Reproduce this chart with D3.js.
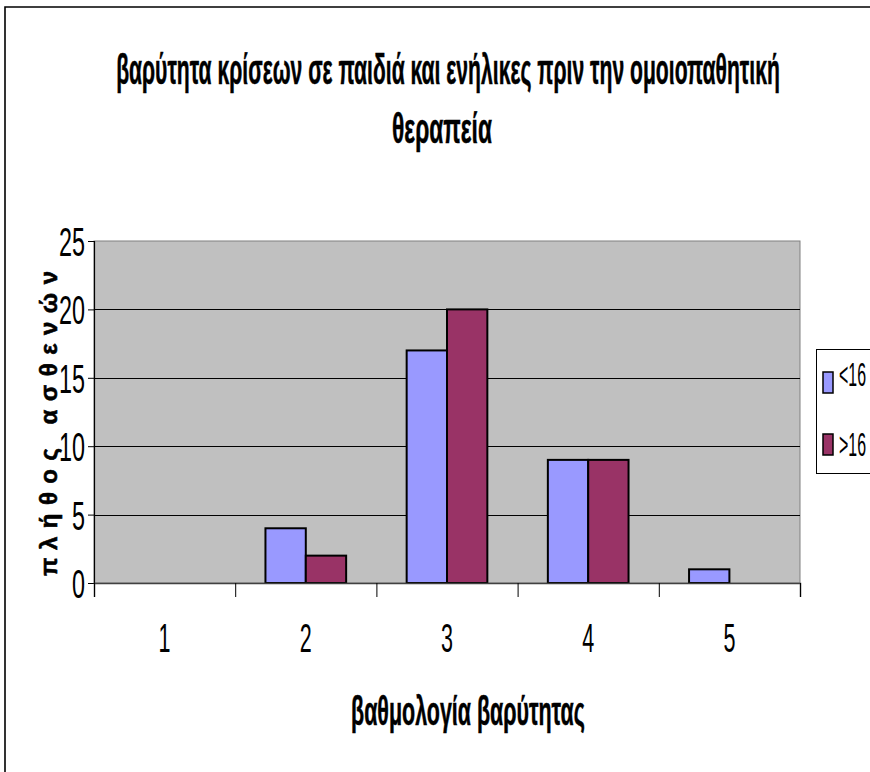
<!DOCTYPE html>
<html>
<head>
<meta charset="utf-8">
<script src="https://cdn.jsdelivr.net/npm/d3@7/dist/d3.min.js"></script>
<style>
  html, body { margin: 0; padding: 0; background: #fff; }
  svg { display: block; }
  text { font-family: "Liberation Sans Narrow", "Liberation Sans", Arial, sans-serif; fill: #000; }
</style>
</head>
<body>
<script>
// Severity grades and number of patients per age group
const categories = ["1", "2", "3", "4", "5"];
const seriesNames = ["<16", ">16"];
const under16 = [0, 4, 17, 9, 1];
const over16 = [0, 2, 20, 9, 0];
const yTicks = [0, 5, 10, 15, 20, 25];
const seriesColors = ["#9999FF", "#993366"];

const titleLines = ["βαρύτητα κρίσεων σε παιδιά και ενήλικες πριν την ομοιοπαθητική", "θεραπεία"];
const xTitle = "βαθμολογία βαρύτητας";
const yTitle = "πλήθος ασθενών";

const W = 870, H = 772;
const plot = { left: 94, right: 800, top: 241, bottom: 583 };
const FONT = "'Liberation Sans Narrow','Liberation Sans',Arial,sans-serif";

const svg = d3.select("body").append("svg").attr("width", W).attr("height", H);

// Squeeze a text horizontally to a given width, keeping its glyph height.
function squeeze(sel, width, tx, ty) {
  sel.each(function (d, i) {
    const w = typeof width === "function" ? width(d, i) : width;
    const px = typeof tx === "function" ? tx(d, i) : tx;
    const py = typeof ty === "function" ? ty(d, i) : ty;
    const natural = this.getComputedTextLength() || 1;
    d3.select(this).attr("x", 0).attr("y", 0)
      .attr("transform", `translate(${px},${py}) scale(${w / natural},1)`);
  });
}

// chart area frame
svg.append("path")
  .attr("d", `M5,${H + 2} V7 H${W + 2}`)
  .attr("fill", "none").attr("stroke", "#000").attr("stroke-width", 1.6);

const x = d3.scaleBand().domain(categories).range([plot.left, plot.right]).padding(0);
const edges = d3.scaleLinear().domain([0, categories.length]).range([plot.left, plot.right]);
const y = d3.scaleLinear().domain([0, 25]).range([plot.bottom, plot.top]);
const barW = x.bandwidth() / 3.5;
const inner = d3.scaleBand().domain(seriesNames).range([-barW, barW]);

// plot background
svg.append("rect")
  .attr("x", plot.left).attr("y", plot.top)
  .attr("width", plot.right - plot.left).attr("height", plot.bottom - plot.top)
  .attr("fill", "#C0C0C0").attr("stroke", "#808080").attr("stroke-width", 1);

// gridlines
svg.append("g").selectAll("line").data(yTicks.filter(d => d > 0 && d < 25)).join("line")
  .attr("x1", plot.left).attr("x2", plot.right)
  .attr("y1", d => Math.round(y(d)) + 0.5).attr("y2", d => Math.round(y(d)) + 0.5)
  .attr("stroke", "#000").attr("stroke-width", 1);

// bars
const rows = categories.map((c, i) => ({ c, vals: [under16[i], over16[i]] }));
const groups = svg.append("g").selectAll("g").data(rows).join("g")
  .attr("transform", d => `translate(${x(d.c) + x.bandwidth() / 2},0)`);
groups.selectAll("rect").data(d => d.vals.map((v, k) => ({ v, k })).filter(e => e.v > 0)).join("rect")
  .attr("x", e => inner(seriesNames[e.k]))
  .attr("width", inner.bandwidth())
  .attr("y", e => y(e.v))
  .attr("height", e => y(0) - y(e.v))
  .attr("fill", e => seriesColors[e.k])
  .attr("stroke", "#000").attr("stroke-width", 2);

// y axis
const yAxis = svg.append("g").attr("transform", `translate(${plot.left},0)`)
  .call(d3.axisLeft(y).tickValues(yTicks).tickSize(6).tickPadding(9).tickFormat(d3.format("d")));
yAxis.select(".domain").attr("stroke", "#000").attr("stroke-width", 1.2);
yAxis.selectAll(".tick line").attr("stroke", "#000");
yAxis.selectAll(".tick text")
  .attr("font-size", 40).attr("dy", "0.36em").attr("fill", "#000")
  .style("font-family", FONT)
  .call(squeeze, d => String(d).length * 13, -9, 0);

// x axis: boundary ticks plus centred category labels
const xEdges = svg.append("g").attr("transform", `translate(0,${plot.bottom})`)
  .call(d3.axisBottom(edges).ticks(categories.length).tickSize(14).tickFormat(""));
xEdges.select(".domain").attr("stroke", "#404040").attr("stroke-width", 1.5);
xEdges.selectAll(".tick line").attr("stroke", "#000");

const xLabels = svg.append("g").attr("transform", `translate(0,${plot.bottom})`)
  .call(d3.axisBottom(x).tickSize(0).tickPadding(0));
xLabels.select(".domain").remove();
xLabels.selectAll(".tick text")
  .attr("dy", 0).attr("font-size", 40).attr("fill", "#000")
  .style("font-family", FONT)
  .call(squeeze, 12, 0, 69);

// title
const titleLayout = [{ cx: 448, base: 84, w: 664 }, { cx: 442, base: 143, w: 100 }];
svg.append("g").selectAll("text").data(titleLines).join("text")
  .attr("text-anchor", "middle").attr("font-size", 42).attr("font-weight", "bold")
  .attr("stroke", "#000").attr("stroke-width", 0.5)
  .text(d => d)
  .call(squeeze, (d, i) => titleLayout[i].w, (d, i) => titleLayout[i].cx, (d, i) => titleLayout[i].base);

// x axis title
svg.append("text")
  .attr("text-anchor", "middle")
  .attr("font-size", 40).attr("font-weight", "bold")
  .attr("stroke", "#000").attr("stroke-width", 0.5)
  .text(xTitle)
  .call(squeeze, 234, 468, 725);

// y axis title, rotated and spread along the axis
svg.append("text")
  .attr("transform", "translate(57,576) rotate(-90)")
  .attr("x", 0).attr("y", 0).attr("text-anchor", "start")
  .attr("font-size", 24).attr("font-weight", "bold")
  .attr("stroke", "#000").attr("stroke-width", 0.6)
  .attr("textLength", 305).attr("lengthAdjust", "spacing")
  .text(yTitle);

// legend
const legend = svg.append("g");
legend.append("rect")
  .attr("x", 816.5).attr("y", 349.5).attr("width", 80).attr("height", 124)
  .attr("fill", "#fff").attr("stroke", "#000").attr("stroke-width", 1);
const legendRows = [{ top: 372, base: 386 }, { top: 434, base: 456 }];
const items = legend.selectAll("g.item").data(seriesNames).join("g").attr("class", "item");
items.append("rect")
  .attr("x", 823).attr("y", (d, i) => legendRows[i].top)
  .attr("width", 10).attr("height", 21)
  .attr("fill", (d, i) => seriesColors[i]).attr("stroke", "#000").attr("stroke-width", 1.5);
items.append("text")
  .attr("font-size", 34)
  .text(d => d)
  .call(squeeze, 27, 839, (d, i) => legendRows[i].base);
</script>
</body>
</html>
